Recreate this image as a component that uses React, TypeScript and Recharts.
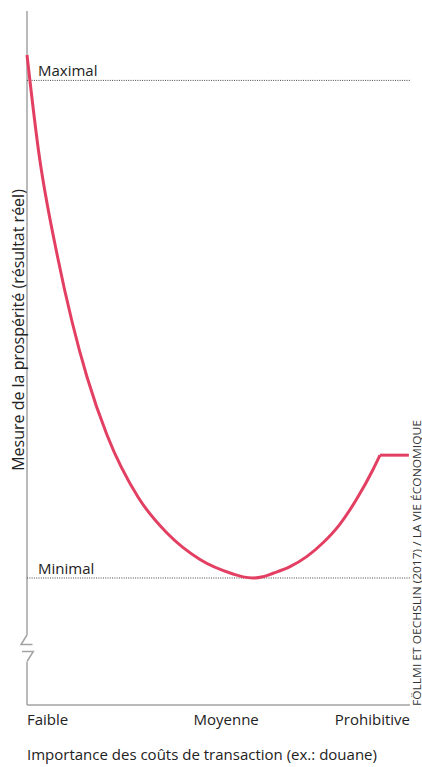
import { Line, LineChart, ReferenceLine, XAxis, YAxis } from "recharts";

// x: transaction costs (0 = faible, 100 = prohibitive), y: prosperity (0..100)
const curveX = [
  0, 3.0, 7.96, 11.75, 15.67, 20.89, 28.98, 36.55, 45.17, 53.79, 56.4,
  59.01, 61.6, 64.23, 68.67, 73.03, 77.36, 81.72, 86.08, 90.42, 92.17,
];
const curveY = [
  93.66, 79.9, 64.63, 55.26, 47.26, 38.9, 29.97, 24.78, 20.97, 18.88, 18.46,
  18.3, 18.48, 18.98, 19.94, 21.38, 23.41, 26.07, 29.68, 34.01, 36.0,
];
const plateauX = [92.17, 99.7];
const plateauY = [36.0, 36.0];

const maximal = 90;
const minimal = 18.3;

// y axis is interrupted between these two values
const breakTop = 10.1;
const breakBottom = 6.2;

const xTicks = [0, 52, 100];
const xTickLabels = ["Faible", "Moyenne", "Prohibitive"];

const data = [
  ...curveX.map((x, i) => ({
    x,
    curve: curveY[i] as number | null,
    plateau: (x === plateauX[0] ? plateauY[0] : null) as number | null,
  })),
  { x: plateauX[1], curve: null, plateau: plateauY[1] },
];

const FONT = "'Open Sans', 'Noto Sans', sans-serif";
const RED = "#e33f62";
const AXIS = "#a3a3a3";
const TEXT = "#222";

// eslint-disable-next-line @typescript-eslint/no-explicit-any
function XTick(props: any) {
  const { x, y, payload } = props;
  const i = xTicks.indexOf(payload.value);
  const anchor = i === 0 ? "start" : i === 2 ? "end" : "middle";
  return (
    <text
      x={x}
      y={y + 12}
      textAnchor={anchor}
      fontFamily={FONT}
      fontSize={15}
      fill={TEXT}
    >
      {xTickLabels[i]}
    </text>
  );
}

// eslint-disable-next-line @typescript-eslint/no-explicit-any
function RefLabel(props: any) {
  const { viewBox, text } = props;
  if (!viewBox) return null;
  return (
    <text
      x={viewBox.x + 11}
      y={viewBox.y - 4}
      fontFamily={FONT}
      fontSize={15}
      fill={TEXT}
    >
      {text}
    </text>
  );
}

export default function App() {
  return (
    <div
      style={{
        position: "absolute",
        left: 0,
        top: 0,
        width: 422,
        height: 767,
        background: "#fff",
      }}
    >
      <LineChart
        width={422}
        height={767}
        data={data}
        margin={{ top: 11, right: 12, bottom: 32, left: 27 }}
      >
        <XAxis
          dataKey="x"
          type="number"
          domain={[0, 100]}
          ticks={xTicks}
          interval={0}
          height={30}
          tickLine={false}
          axisLine={{ stroke: AXIS, strokeWidth: 1.5 }}
          tick={<XTick />}
        />
        <YAxis type="number" domain={[0, 100]} hide />
        <ReferenceLine
          segment={[
            { x: 0, y: 100 },
            { x: 0, y: breakTop },
          ]}
          stroke={AXIS}
          strokeWidth={1.5}
        />
        <ReferenceLine
          segment={[
            { x: 0, y: breakBottom },
            { x: 0, y: 0 },
          ]}
          stroke={AXIS}
          strokeWidth={1.5}
        />
        <ReferenceLine
          y={maximal}
          stroke="#444"
          strokeDasharray="1 1.3"
          label={<RefLabel text="Maximal" />}
        />
        <ReferenceLine
          y={minimal}
          stroke="#444"
          strokeDasharray="1 1.3"
          label={<RefLabel text="Minimal" />}
        />
        <Line
          dataKey="curve"
          type="monotone"
          stroke={RED}
          strokeWidth={3}
          dot={false}
          activeDot={false}
          isAnimationActive={false}
        />
        <Line
          dataKey="plateau"
          type="linear"
          stroke={RED}
          strokeWidth={3}
          dot={false}
          activeDot={false}
          isAnimationActive={false}
        />
      </LineChart>
      <svg
        width={422}
        height={767}
        style={{ position: "absolute", left: 0, top: 0, pointerEvents: "none" }}
      >
        {/* axis break marks */}
        <path
          d="M27 635 L21 644.5 L32.5 644.5 M22 651.5 L33.3 651.5 L27 661.5"
          fill="none"
          stroke={AXIS}
          strokeWidth={1.5}
        />
        <text
          transform="translate(23.5 330) rotate(-90)"
          textAnchor="middle"
          fontFamily={FONT}
          fontSize={16}
          fill={TEXT}
        >
          Mesure de la prospérité (résultat réel)
        </text>
        <text x={27} y={760} fontFamily={FONT} fontSize={15} fill={TEXT}>
          Importance des coûts de transaction (ex.: douane)
        </text>
        <text
          transform="translate(420.5 706) rotate(-90)"
          fontFamily={FONT}
          fontSize={11}
          fill="#333"
          textLength={286}
          lengthAdjust="spacingAndGlyphs"
        >
          FÖLLMI ET OECHSLIN (2017) / LA VIE ÉCONOMIQUE
        </text>
      </svg>
    </div>
  );
}
